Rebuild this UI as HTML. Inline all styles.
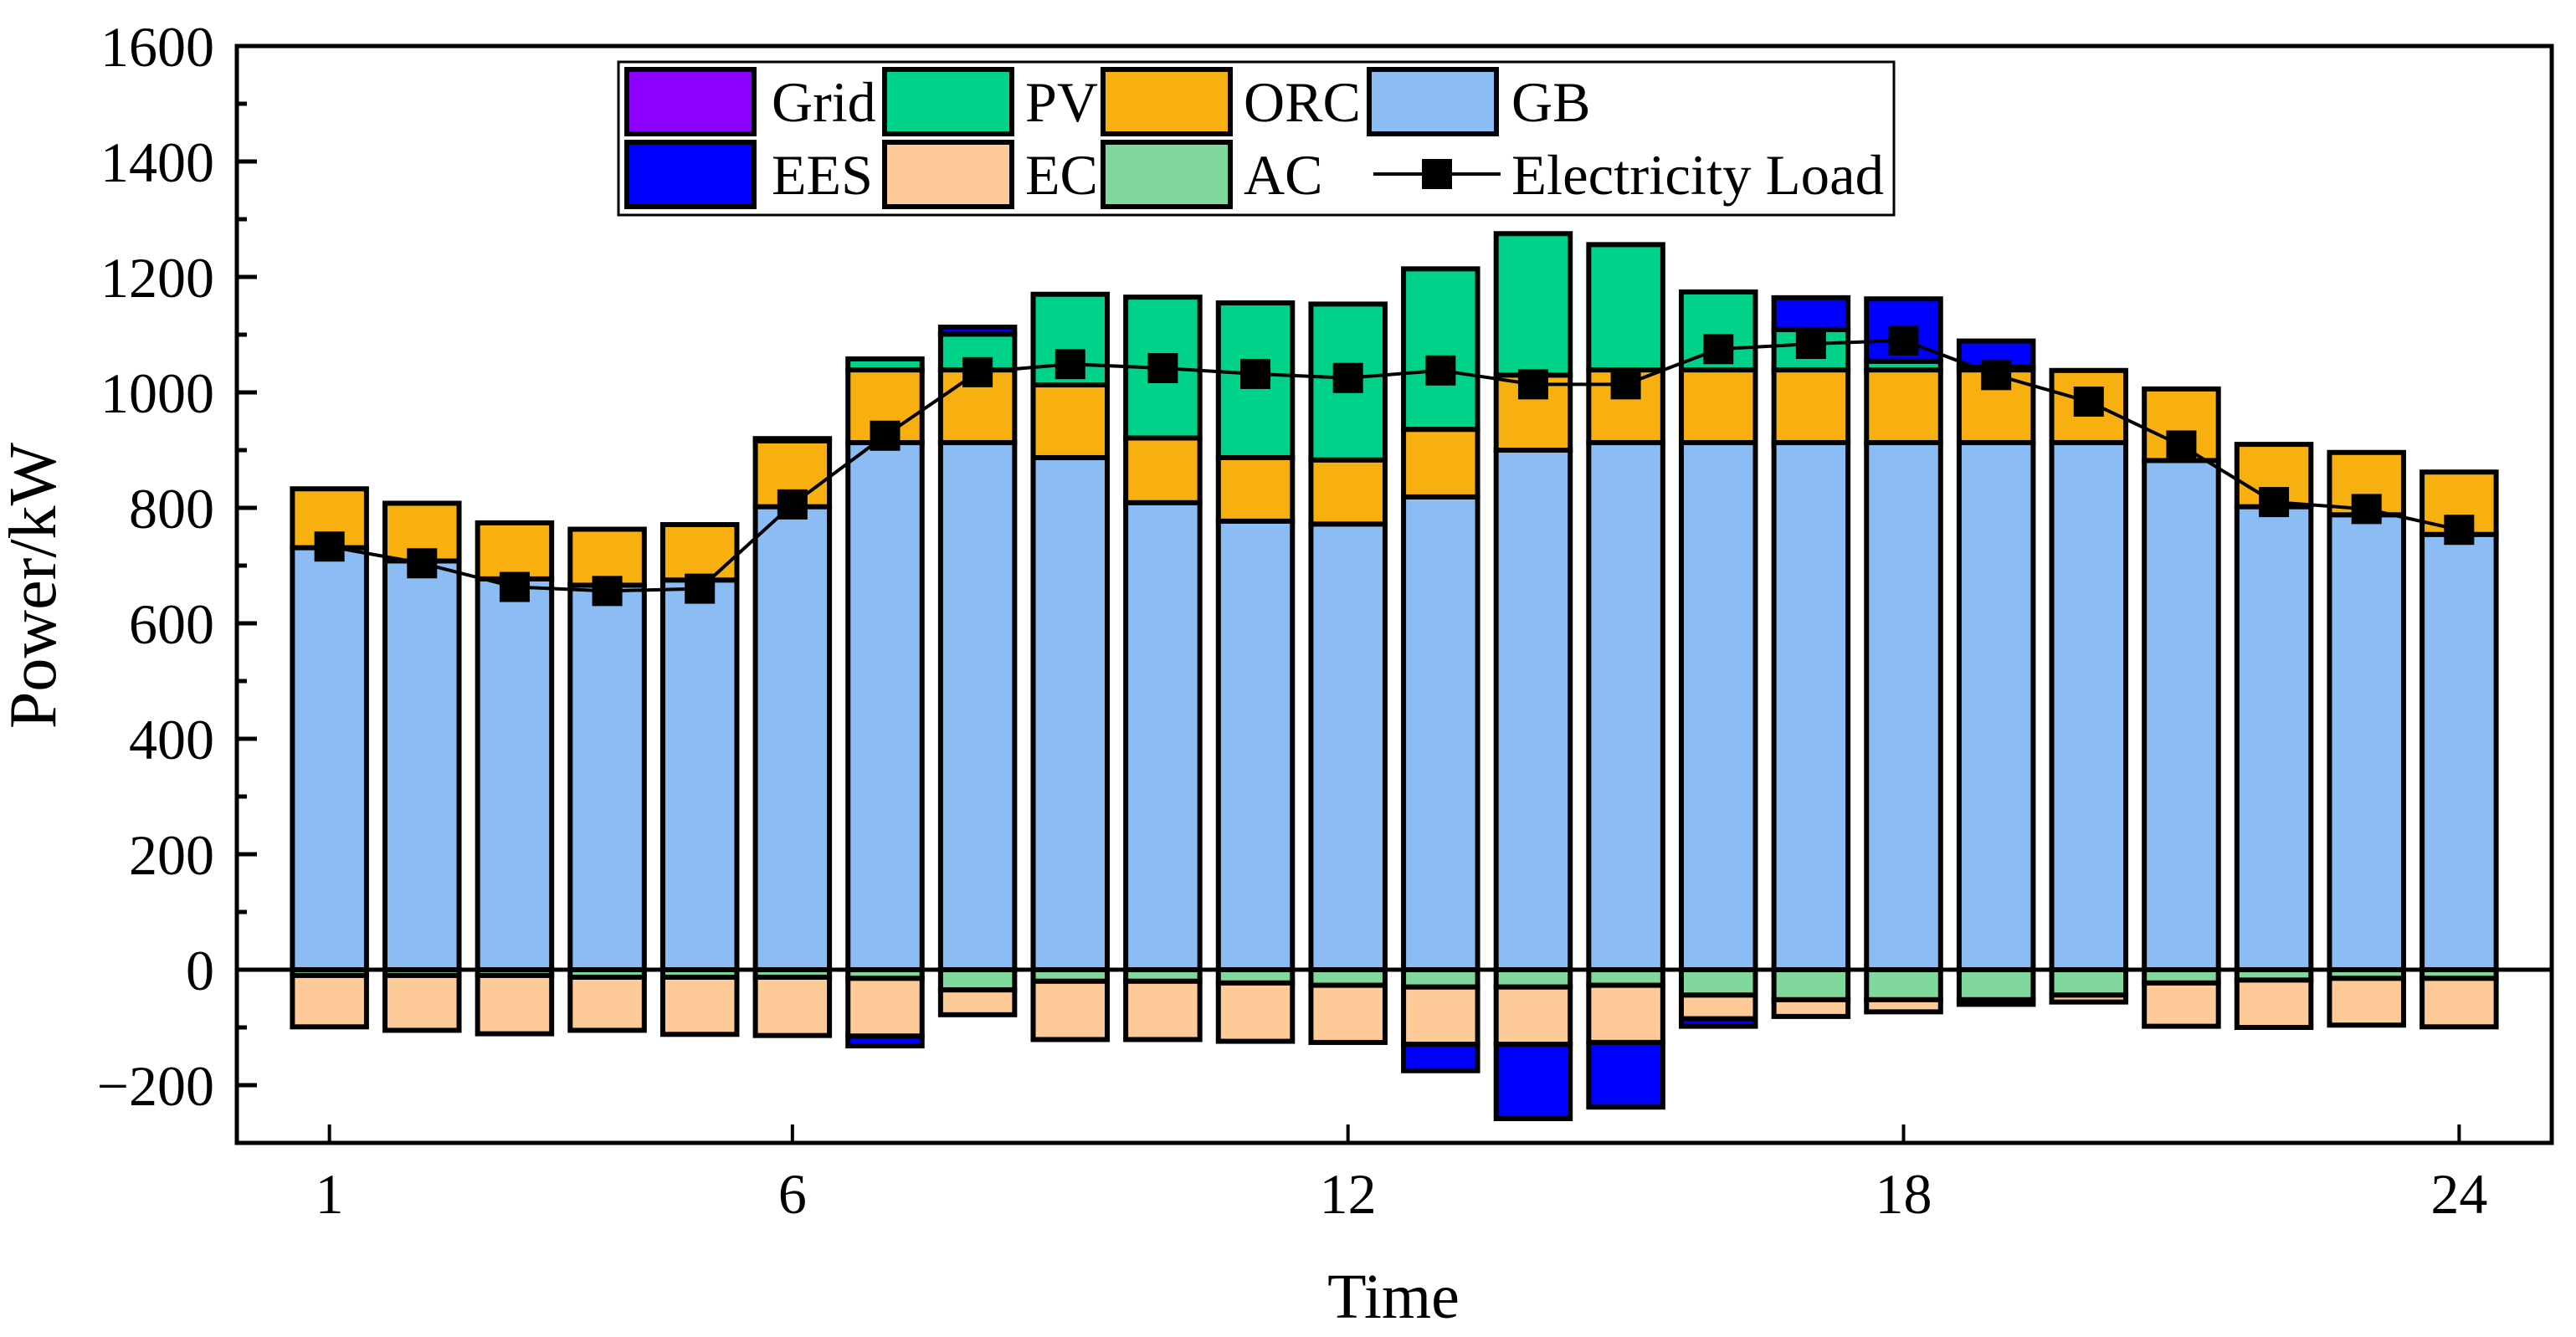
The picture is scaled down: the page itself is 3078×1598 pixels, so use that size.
<!DOCTYPE html>
<html><head><meta charset="utf-8">
<style>
html,body{margin:0;padding:0;background:#fff;}
svg{display:block;font-family:"Liberation Serif",serif;}
</style></head>
<body>
<svg id="chart" width="3078" height="1598" viewBox="0 0 3078 1598" xmlns="http://www.w3.org/2000/svg">
<g id="bars"></g>
<g id="axes"></g>
<g id="line"></g>
<g id="legend"></g>
<text x="1665" y="1575" font-size="76" text-anchor="middle">Time</text>
<text x="0" y="0" font-size="80" text-anchor="middle" transform="translate(66,700) rotate(-90)">Power/kW</text>
</svg>
<script>
const hours = [1,2,3,4,5,6,7,8,9,10,11,12,13,14,15,16,17,18,19,20,21,22,23,24];
const gb   = [731,708,677,666,675,802,913,913,887,809,777,772,819,900,913,913,913,913,913,913,882,802,788,754];
const orcTop=[833,808,774,763,771,916,1039,1039,1013,921,887,883,936,1030,1039,1039,1039,1039,1039,1038,1006,910,896,862];
const pvTop= [833,808,774,763,771,920,1058,1101,1170,1165,1155,1153,1214,1275,1256,1174,1109,1054,1045,1038,1006,910,896,862];
const eesPos=[0,0,0,0,0,0,0,12,0,0,0,0,0,0,0,0,55,108,44,0,0,0,0,0];
const acNeg = [10,10,10,13,13,13,15,35,20,20,23,27,30,30,27,44,52,52,52,44,23,18,15,15];
const ecBottom = [99,105,111,105,112,114,115,78,121,121,124,126,129,129,126,85,81,73,60,56,98,100,96,99];
const eesNeg= [0,0,0,0,0,0,17,0,0,0,0,0,46,129,112,13,0,0,0,0,0,0,0,0];
const load = [733,704,663,656,660,806,925,1035,1049,1042,1032,1025,1038,1014,1014,1075,1084,1090,1030,984,908,810,798,762];
const yTicks = [-200,0,200,400,600,800,1000,1200,1400,1600];
const xTicks = [1,6,12,18,24];

const L=283,R=3049,T=55,B=1366,yMin=-300,yMax=1600,xMin=0,xMax=25;
const X=v=>L+(v-xMin)/(xMax-xMin)*(R-L);
const Y=v=>B-(v-yMin)/(yMax-yMin)*(B-T);
const NS="http://www.w3.org/2000/svg";
function mk(tag,attrs,parent){const e=document.createElementNS(NS,tag);for(const k in attrs)e.setAttribute(k,attrs[k]);parent.appendChild(e);return e;}
const C={grid:"#8b00ff",pv:"#00d28a",orc:"#f8b010",gb:"#8cbcf4",ees:"#0000ff",ec:"#fecb98",ac:"#80d89c"};
const bw=(X(1)-X(0))*0.8;
const gBars=document.getElementById('bars');
hours.forEach((h,i)=>{
  const ecB=-ecBottom[i];
  const segs=[[0,gb[i],C.gb,'gb'],[gb[i],orcTop[i],C.orc,'orc'],[orcTop[i],pvTop[i],C.pv,'pv'],[pvTop[i],pvTop[i]+eesPos[i],C.ees,'ees'],
    [0,-acNeg[i],C.ac,'ac'],[-acNeg[i],ecB,C.ec,'ec'],[ecB,ecB-eesNeg[i],C.ees,'ees-charge']];
  segs.forEach(s=>{
    if(Math.abs(s[1]-s[0])<0.5)return;
    const y1=Y(Math.max(s[0],s[1])),y2=Y(Math.min(s[0],s[1]));
    const r=mk('rect',{x:X(h)-bw/2,y:y1,width:bw,height:y2-y1,fill:s[2],stroke:'#000','stroke-width':6},gBars);
    
    
  });
});
const gA=document.getElementById('axes');
const z=mk('line',{x1:L,x2:R,y1:Y(0),y2:Y(0),stroke:'#000','stroke-width':5},gA);


const fr=mk('rect',{x:L,y:T,width:R-L,height:B-T,fill:'none',stroke:'#000','stroke-width':5},gA);


for(let v=-300;v<=1600;v+=100){
  const major=yTicks.includes(v);
  mk('line',{x1:L,x2:L+(major?24:12),y1:Y(v),y2:Y(v),stroke:'#000','stroke-width':5},gA);
}
yTicks.forEach(v=>{
  const t=mk('text',{x:256,y:Y(v)+24,'font-size':68,'text-anchor':'end'},gA);
  t.textContent=v<0?'\u2212'+Math.abs(v):String(v);
  
  
});
xTicks.forEach(v=>{
  mk('line',{x1:X(v),x2:X(v),y1:B,y2:B-22,stroke:'#000','stroke-width':4},gA);
  const t=mk('text',{x:X(v),y:1450,'font-size':68,'text-anchor':'middle'},gA);
  t.textContent=String(v);
  
  
});
const gL=document.getElementById('line');
const pts=hours.map((h,i)=>X(h)+','+Y(load[i])).join(' ');
const pl=mk('polyline',{points:pts,fill:'none',stroke:'#000','stroke-width':4},gL);


hours.forEach((h,i)=>{
  const m=mk('rect',{x:X(h)-18,y:Y(load[i])-18,width:36,height:36,fill:'#000'},gL);
  
  
});
const gLg=document.getElementById('legend');
const box=mk('rect',{x:739,y:74,width:1524,height:183,fill:'#fff',stroke:'#000','stroke-width':3},gLg);


const items=[['Grid',C.grid,746,922,0],['PV',C.pv,1054,1225,0],['ORC',C.orc,1315,1486,0],['GB',C.gb,1633,1806,0],
  ['EES',C.ees,746,922,1],['EC',C.ec,1054,1225,1],['AC',C.ac,1315,1486,1],['Electricity Load',null,1633,1806,1]];
items.forEach(it=>{
  const yy=it[4]?170:83;
  if(it[1]){
    const s=mk('rect',{x:it[2]+3,y:yy,width:152,height:77,fill:it[1],stroke:'#000','stroke-width':6},gLg);
    
    
  } else {
    mk('line',{x1:it[2]+8,x2:it[2]+160,y1:yy+38,y2:yy+38,stroke:'#000','stroke-width':4},gLg);
    mk('rect',{x:it[2]+66,y:yy+20,width:36,height:36,fill:'#000'},gLg);
  }
  const t=mk('text',{x:it[3],y:yy+62,'font-size':68},gLg);
  t.textContent=it[0];
  
  
  if(it[0]==='Electricity Load'){t.setAttribute('textLength','445');t.setAttribute('lengthAdjust','spacingAndGlyphs');}
});
</script>
</body></html>
